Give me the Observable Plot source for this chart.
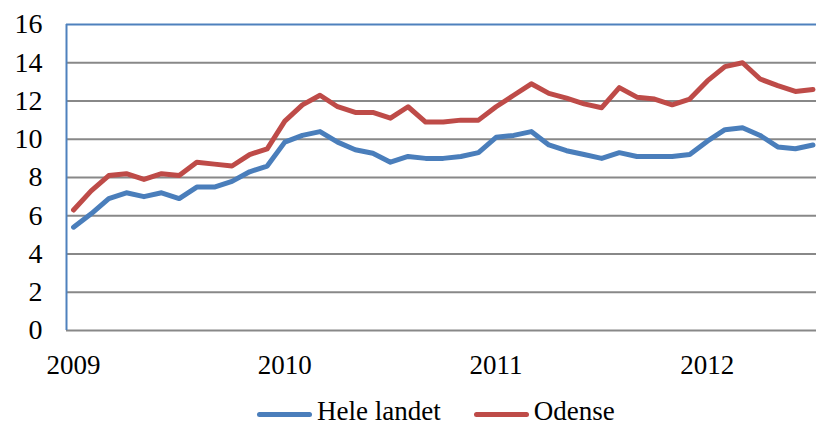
<!DOCTYPE html>
<html>
<head>
<meta charset="utf-8">
<script src="https://cdn.jsdelivr.net/npm/d3@7"></script>
<script src="https://cdn.jsdelivr.net/npm/@observablehq/plot@0.6"></script>
<style>
  html, body { margin: 0; padding: 0; background: #fff; }
  #wrap { position: relative; width: 816px; height: 428px; overflow: hidden; font-family: "Liberation Serif", serif; }
  #legend { position: absolute; left: 257px; top: 398px; display: flex; align-items: flex-start; font-size: 27px; line-height: 27px; color: #000; white-space: nowrap; }
  .sw { display: inline-block; width: 55px; height: 5px; border-radius: 3px; margin-top: 14px; margin-right: 5px; }
  .item { display: flex; align-items: flex-start; }
</style>
</head>
<body>
<div id="wrap"><div id="chart"></div><div id="legend"></div></div>
<script>
// Monthly values, Jan 2009 .. Jul 2012
const seriesNames = ["Hele landet", "Odense"];
const colors = ["#4A7EBB", "#BE4B48"];
const heleLandet = [
  5.4, 6.1, 6.9, 7.2, 7.0, 7.2, 6.9, 7.5, 7.5, 7.8, 8.3, 8.6,
  9.85, 10.2, 10.4, 9.85, 9.45, 9.27, 8.8, 9.1, 9.0, 9.0, 9.1, 9.3,
  10.1, 10.2, 10.4, 9.7, 9.4, 9.2, 9.0, 9.3, 9.1, 9.1, 9.1, 9.2,
  9.9, 10.5, 10.6, 10.2, 9.6, 9.5, 9.7
];
const odense = [
  6.3, 7.3, 8.1, 8.2, 7.9, 8.2, 8.1, 8.8, 8.7, 8.6, 9.2, 9.5,
  10.95, 11.8, 12.3, 11.7, 11.4, 11.4, 11.1, 11.7, 10.9, 10.9, 11.0, 11.0,
  11.7, 12.3, 12.9, 12.4, 12.15, 11.85, 11.65, 12.7, 12.2, 12.1, 11.8, 12.1,
  13.05, 13.8, 14.0, 13.15, 12.8, 12.5, 12.6
];
const yearLabels = ["2009", "2010", "2011", "2012"];
const yTicks = [0, 2, 4, 6, 8, 10, 12, 14, 16];

const rows = [];
heleLandet.forEach((v, i) => rows.push({i, v, s: seriesNames[0]}));
odense.forEach((v, i) => rows.push({i, v, s: seriesNames[1]}));
const yearTicks = yearLabels.map((_, k) => k * 12);
const xDomain = [-0.4, heleLandet.length - 1 + 0.2];
const font = "Liberation Serif";

const chart = Plot.plot({
  width: 816,
  height: 380,
  marginLeft: 66,
  marginRight: 0,
  marginTop: 24,
  marginBottom: 50,
  style: {fontFamily: font, background: "#fff", overflow: "visible"},
  x: {type: "linear", domain: xDomain},
  y: {domain: [0, 16]},
  color: {domain: seriesNames, range: colors},
  marks: [
    Plot.ruleY(yTicks.slice(0, -1), {stroke: "#888888", strokeWidth: 2}),
    Plot.ruleY(yTicks.slice(-1), {stroke: "#4F81BD", strokeWidth: 2}),
    Plot.ruleX([xDomain[0]], {stroke: "#4F81BD", strokeWidth: 2}),
    Plot.line(rows, {x: "i", y: "v", z: "s", stroke: "s", strokeWidth: 5, strokeLinejoin: "round", strokeLinecap: "round"}),
    Plot.axisY({ticks: yTicks, tickSize: 0, tickPadding: 24, fontSize: 28, fill: "#000", label: null}),
    Plot.axisX({ticks: yearTicks, tickFormat: (d) => yearLabels[d / 12], tickSize: 0, tickPadding: 24, fontSize: 27, fill: "#000", label: null})
  ]
});
document.getElementById("chart").appendChild(chart);

const legend = document.getElementById("legend");
seriesNames.forEach((name, k) => {
  const item = document.createElement("div");
  item.className = "item";
  if (k > 0) item.style.marginLeft = "33px";
  const sw = document.createElement("span");
  sw.className = "sw";
  sw.style.background = colors[k];
  const t = document.createElement("span");
  t.textContent = name;
  item.appendChild(sw);
  item.appendChild(t);
  legend.appendChild(item);
});
</script>
</body>
</html>
